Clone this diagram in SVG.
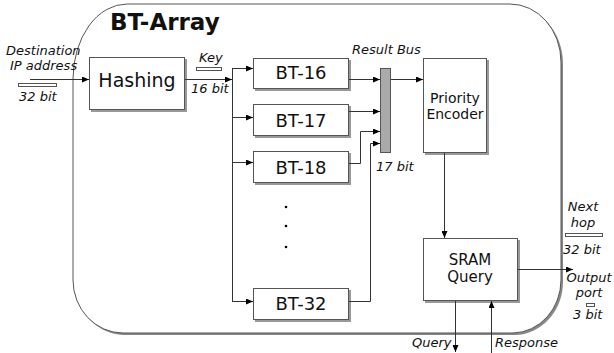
<svg xmlns="http://www.w3.org/2000/svg" width="614" height="353" viewBox="0 0 614 353">
<defs>
<style>
.t{font-family:"DejaVu Sans","Liberation Sans",sans-serif;fill:#111}
.i{font-family:"DejaVu Sans","Liberation Sans",sans-serif;font-style:italic;font-size:13px;fill:#111}
.box{fill:#fff;stroke:#555;stroke-width:1}
.sh{fill:#999}
.ln{fill:none;stroke:#333;stroke-width:1}
.bw{fill:#fff;stroke:#555;stroke-width:1}
</style>
<marker id="ah" markerWidth="7" markerHeight="6" refX="7" refY="3" orient="auto" markerUnits="userSpaceOnUse">
<path d="M0,0 L7,3 L0,6 z" fill="#000"/>
</marker>
</defs>
<rect width="614" height="353" fill="#fff"/>
<g id="bt-array">
<path d="M129,6 H512 A51,58 0 0 1 563,64 V282 A49,53 0 0 1 515,335 H125 A50,53 0 0 1 75,282 V85 A54,75 0 0 1 129,6 Z" fill="#888"/>
<path d="M127,4 H510 A51,58 0 0 1 561,62 V280 A49,53 0 0 1 513,333 H123 A50,53 0 0 1 73,280 V79 A54,75 0 0 1 127,4 Z" fill="#fff" stroke="#555" stroke-width="1"/>
<text class="t" x="110" y="30" font-size="23" font-weight="bold">BT-Array</text>
</g>
<g id="input">
<text class="i" x="6" y="55">Destination</text>
<text class="i" x="10" y="70">IP address</text>
<rect class="bw" x="18.5" y="83.5" width="38" height="3"/>
<text class="i" x="19" y="101">32 bit</text>
</g>
<g id="hashing">
<rect class="sh" x="91" y="59" width="96" height="53"/>
<rect class="box" x="89.5" y="57.5" width="95" height="52"/>
<text class="t" x="137" y="87" font-size="19" text-anchor="middle">Hashing</text>
</g>
<g id="key">
<text class="i" x="199" y="62">Key</text>
<rect class="bw" x="196.5" y="67.5" width="25" height="3"/>
<text class="i" x="191" y="93">16 bit</text>
</g>
<g id="bt16">
<rect class="sh" x="255" y="60" width="96" height="31"/>
<rect class="box" x="253.5" y="58.5" width="95" height="30"/>
<text class="t" x="301" y="79" font-size="18" text-anchor="middle">BT-16</text>
</g>
<g id="bt17">
<rect class="sh" x="255" y="106" width="96" height="32"/>
<rect class="box" x="253.5" y="104.5" width="95" height="31"/>
<text class="t" x="301" y="127" font-size="18" text-anchor="middle">BT-17</text>
</g>
<g id="bt18">
<rect class="sh" x="255" y="153" width="96" height="32"/>
<rect class="box" x="253.5" y="151.5" width="95" height="31"/>
<text class="t" x="301" y="174" font-size="18" text-anchor="middle">BT-18</text>
</g>
<g id="dots" fill="#000">
<circle cx="286" cy="207" r="1.3"/>
<circle cx="286" cy="226" r="1.3"/>
<circle cx="286" cy="247" r="1.3"/>
</g>
<g id="bt32">
<rect class="sh" x="255" y="290" width="96" height="32"/>
<rect class="box" x="253.5" y="288.5" width="95" height="31"/>
<text class="t" x="301" y="310" font-size="18" text-anchor="middle">BT-32</text>
</g>
<g id="result-bus">
<rect x="380.5" y="68.5" width="10" height="84" fill="#aaa" stroke="#555"/>
<text class="i" x="352" y="54">Result Bus</text>
<text class="i" x="376" y="171">17 bit</text>
</g>
<g id="priority-encoder">
<rect class="sh" x="425" y="60" width="64" height="95"/>
<rect class="box" x="423.5" y="58.5" width="63" height="94"/>
<text class="t" x="455" y="103" font-size="14" text-anchor="middle">Priority</text>
<text class="t" x="455" y="119" font-size="14" text-anchor="middle">Encoder</text>
</g>
<g id="sram-query">
<rect class="sh" x="425" y="240" width="95" height="63"/>
<rect class="box" x="423.5" y="238.5" width="94" height="62"/>
<text class="t" x="470" y="265" font-size="15" text-anchor="middle">SRAM</text>
<text class="t" x="470" y="282" font-size="15" text-anchor="middle">Query</text>
</g>
<g id="outputs">
<text class="i" x="583" y="211" text-anchor="middle">Next</text>
<text class="i" x="583" y="227" text-anchor="middle">hop</text>
<rect class="bw" x="565.5" y="233.5" width="37" height="3"/>
<text class="i" x="563" y="254">32 bit</text>
<text class="i" x="589" y="282" text-anchor="middle">Output</text>
<text class="i" x="589" y="297" text-anchor="middle">port</text>
<rect class="bw" x="586.5" y="303.5" width="8" height="3"/>
<text class="i" x="573" y="319">3 bit</text>
<text class="i" x="412" y="347">Query</text>
<text class="i" x="495" y="347">Response</text>
</g>
<g id="connectors" class="ln">
<path d="M30,79.5 H89" marker-end="url(#ah)"/>
<path d="M185,79.5 H232" marker-end="url(#ah)"/>
<path d="M232.5,68.5 V301.5"/>
<path d="M232,68.5 H253" marker-end="url(#ah)"/>
<path d="M232,117.5 H253" marker-end="url(#ah)"/>
<path d="M232,162.5 H253" marker-end="url(#ah)"/>
<path d="M232,301.5 H253" marker-end="url(#ah)"/>
<path d="M349,79.5 H380" marker-end="url(#ah)"/>
<path d="M349,111.5 H380" marker-end="url(#ah)"/>
<path d="M349,163.5 H360.5 V131.5 H380" marker-end="url(#ah)"/>
<path d="M349,301.5 H370.5 V143.5 H380" marker-end="url(#ah)"/>
<path d="M391,79.5 H423" marker-end="url(#ah)"/>
<path d="M444.5,153 V238" marker-end="url(#ah)"/>
<path d="M518,269.5 H573" marker-end="url(#ah)"/>
<path d="M455.5,301 V352" marker-end="url(#ah)"/>
<path d="M491.5,353 V301" marker-end="url(#ah)"/>
</g>
</svg>
